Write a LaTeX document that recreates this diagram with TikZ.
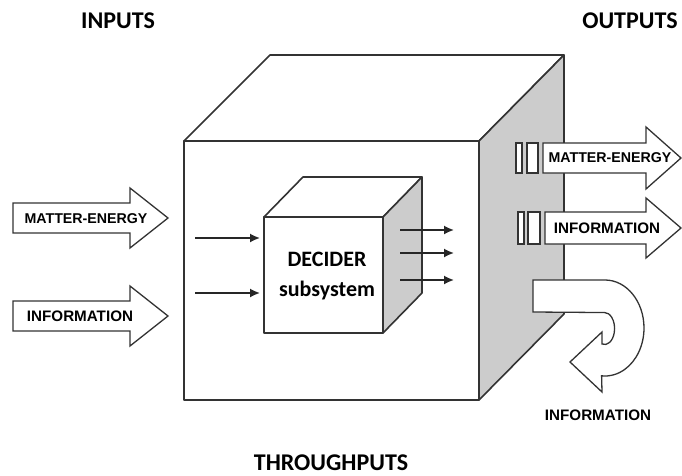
\documentclass[tikz,border=0pt]{standalone}
\usepackage{fontspec}
\setmainfont{Carlito}
\newfontfamily\arrowfont{Liberation Sans}
\usetikzlibrary{arrows.meta}
\begin{document}
\begin{tikzpicture}[x=1pt,y=-1pt,
  edge/.style={draw=black!80, line width=1.6pt, line join=round},
  face/.style={edge, fill=white},
  side/.style={edge, fill=gray!40},
  blockarrow/.style={draw=black!80, line width=1.3pt, fill=white, line join=miter},
  headtext/.style={font=\bfseries\fontsize{24}{28}\selectfont, inner sep=0pt},
  dectext/.style={font=\bfseries\fontsize{22}{26}\selectfont, inner sep=0pt},
  atext/.style={font=\arrowfont\bfseries\fontsize{14.2}{16}\selectfont, inner sep=0pt},
  itext/.style={font=\arrowfont\bfseries\fontsize{15.2}{17}\selectfont, inner sep=0pt},
  flow/.style={draw=black!85, line width=1.7pt, -{Latex[length=10pt,width=9pt]}},
]
\useasboundingbox (0,0) rectangle (682,476);

% big system cube
\draw[face] (184,141) -- (270,55) -- (564,55) -- (479,141) -- cycle;
\draw[side] (479,141) -- (564,55) -- (564,314) -- (479,400) -- cycle;
\draw[face] (184,141) rectangle (479,400);

% decider cube
\draw[face] (264,217) -- (303,177) -- (422,177) -- (383,217) -- cycle;
\draw[side] (383,217) -- (422,177) -- (422,293) -- (383,333) -- cycle;
\node[face, minimum width=119pt, minimum height=116pt, inner sep=0pt, outer sep=0pt, anchor=north west] (decider) at (264,217) {};
\node[dectext] (dec1) at (327,259) {DECIDER};
\node[dectext] (dec2) at (327,291) {subsystem};

% inner flows
\coordinate (i1) at (195,238);
\coordinate (i2) at (195,293);
\draw[flow, shorten >=4pt] (i1) -- (i1 -| decider.west);
\draw[flow, shorten >=4pt] (i2) -- (i2 -| decider.west);
\coordinate (o1s) at (400,230); \coordinate (o1e) at (454,230);
\coordinate (o2s) at (400,253); \coordinate (o2e) at (454,253);
\coordinate (o3s) at (400,280); \coordinate (o3e) at (454,280);
\draw[flow] (o1s) -- (o1e);
\draw[flow] (o2s) -- (o2e);
\draw[flow] (o3s) -- (o3e);

% input block arrows
\draw[blockarrow] (13,203) -- (130,203) -- (130,188) -- (168,218) -- (130,248) -- (130,233) -- (13,233) -- cycle;
\node[atext] (inme) at (86,219) {MATTER-ENERGY};
\draw[blockarrow] (13,301) -- (130,301) -- (130,286) -- (168,316) -- (130,346) -- (130,331) -- (13,331) -- cycle;
\node[itext] (ininfo) at (80,316) {INFORMATION};

% output block arrows
\draw[blockarrow] (516,143) rectangle (522,173);
\draw[blockarrow] (527,143) rectangle (538,173);
\draw[blockarrow] (543,143) -- (646,143) -- (646,127) -- (681,158) -- (646,189) -- (646,173) -- (543,173) -- cycle;
\node[atext] (outme) at (610,158) {MATTER-ENERGY};
\draw[blockarrow] (518,212) rectangle (524,244);
\draw[blockarrow] (528,212) rectangle (540,244);
\draw[blockarrow] (545,212) -- (646,212) -- (646,198) -- (681,228) -- (646,258) -- (646,244) -- (545,244) -- cycle;
\node[itext] (outinfo) at (607,228) {INFORMATION};

% feedback u-turn arrow
\draw[blockarrow] (533,280) -- (605,280)
  arc[start angle=-90, end angle=95, x radius=39, y radius=48]
  -- (602,392) -- (570,362) -- (602,332) -- (602,344)
  arc[start angle=105, end angle=-90, x radius=10, y radius=16]
  -- (533,312) -- cycle;
\node[itext] (fbinfo) at (598,415) {INFORMATION};

% headings
\node[headtext] (inputs) at (118,21) {INPUTS};
\node[headtext] (outputs) at (630,21) {OUTPUTS};
\node[headtext] (through) at (331,463) {THROUGHPUTS};
\end{tikzpicture}
\end{document}
